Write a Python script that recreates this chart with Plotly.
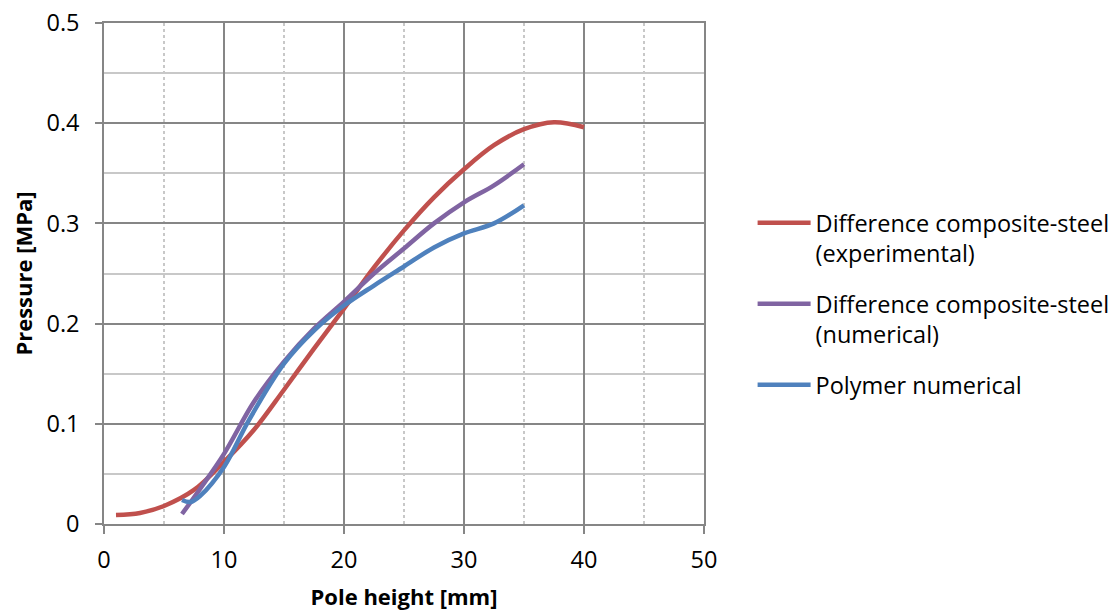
import plotly.graph_objects as go

# Difference composite-steel (experimental)
exp_x = [1.0, 3.0, 5.0, 7.5, 10.0, 12.5, 15.0, 17.5, 20.0, 22.5, 25.0, 27.5, 30.0, 32.5, 35.0, 37.5, 40.0]
exp_y = [0.009, 0.011, 0.018, 0.034, 0.062, 0.094, 0.134, 0.175, 0.215, 0.256, 0.293, 0.326, 0.354, 0.378, 0.394, 0.401, 0.396]

# Difference composite-steel (numerical)
num_x = [6.5, 8.0, 10.0, 12.5, 15.0, 17.5, 20.0, 22.5, 25.0, 27.5, 30.0, 32.5, 35.0]
num_y = [0.010, 0.035, 0.070, 0.122, 0.162, 0.195, 0.222, 0.250, 0.275, 0.300, 0.321, 0.338, 0.359]

# Polymer numerical
pol_x = [6.5, 7.2, 8.0, 10.0, 12.0, 15.0, 17.5, 20.0, 22.5, 25.0, 27.5, 30.0, 32.5, 35.0]
pol_y = [0.024, 0.022, 0.028, 0.057, 0.102, 0.160, 0.193, 0.218, 0.238, 0.257, 0.276, 0.290, 0.300, 0.318]

names = ["Difference composite-steel<br>(experimental)",
         "Difference composite-steel<br>(numerical)",
         "Polymer numerical"]
colors = ["#C0504D", "#8064A2", "#4F81BD"]

x_ticks = [0, 10, 20, 30, 40, 50]
y_ticks = [0, 0.1, 0.2, 0.3, 0.4, 0.5]
y_ticktext = ["0", "0.1", "0.2", "0.3", "0.4", "0.5"]

FONT = "Open Sans"

fig = go.Figure()
for i, (xs, ys, nm, c) in enumerate(zip([exp_x, num_x, pol_x], [exp_y, num_y, pol_y], names, colors)):
    fig.add_trace(go.Scatter(x=xs, y=ys, mode="lines", name=nm, legendgroup=f"g{i}",
                             line=dict(color=c, width=4.5, shape="spline", smoothing=1.0)))

grid_major = "#868686"
grid_minor = "#C8C8C8"

fig.update_layout(
    width=1115, height=611,
    margin=dict(l=104, r=411, t=23, b=87, autoexpand=False),
    paper_bgcolor="white", plot_bgcolor="white",
    font=dict(family=FONT, size=23, color="black"),
    showlegend=True,
    legend=dict(x=1.081, y=0.645, xanchor="left", yanchor="top", valign="top",
                font=dict(family=FONT, size=23.5, color="black"),
                itemwidth=53, tracegroupgap=17, bgcolor="rgba(0,0,0,0)"),
)
fig.update_xaxes(
    range=[0, 50], tickvals=x_ticks, automargin=False,
    showgrid=True, gridcolor=grid_major, gridwidth=1.5,
    minor=dict(tickvals=[5, 15, 25, 35, 45], showgrid=True, gridcolor=grid_minor,
               griddash="dot", gridwidth=1.5),
    showline=True, linecolor=grid_major, linewidth=1.5, mirror=True,
    ticks="outside", ticklen=8, tickcolor=grid_major, tickwidth=1.5,
    zeroline=False,
    tickfont=dict(size=23.5),
    ticklabelstandoff=6,
    title=dict(text="<b>Pole height [mm]</b>", font=dict(size=22), standoff=21),
)
fig.update_yaxes(
    range=[0, 0.5], tickvals=y_ticks, ticktext=y_ticktext, automargin=False,
    showgrid=True, gridcolor=grid_major, gridwidth=1.5,
    minor=dict(tickvals=[0.05, 0.15, 0.25, 0.35, 0.45], showgrid=True, gridcolor=grid_minor,
               gridwidth=1.5),
    showline=True, linecolor=grid_major, linewidth=1.5, mirror=True,
    ticks="outside", ticklen=7, tickcolor=grid_major, tickwidth=1.5,
    zeroline=False,
    tickfont=dict(size=23.5),
    ticklabelstandoff=11,
    title=dict(text="<b>Pressure [MPa]</b>", font=dict(size=22), standoff=8),
)

fig.write_html("out.html")
